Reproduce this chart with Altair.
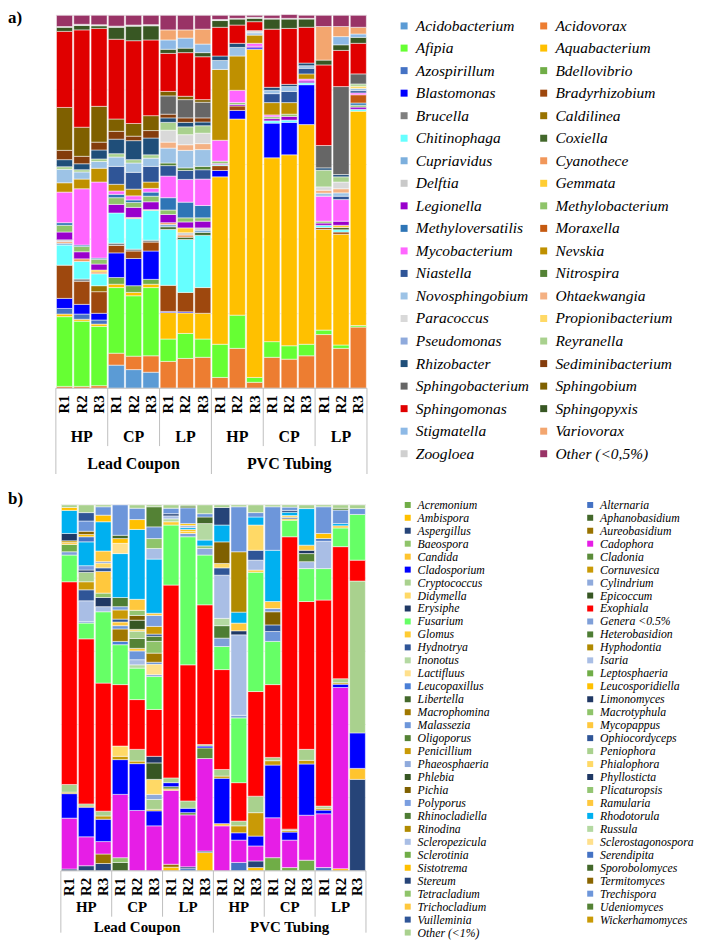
import altair as alt
import pandas as pd

SERIF = "Liberation Serif"

REPLICATES = ["R1", "R2", "R3"]
PIPE_TYPES = ["HP", "CP", "LP"]
MATERIALS = ["Lead Coupon", "PVC Tubing"]
GRID_VALUES = [20, 40, 60, 80, 100]
Y_TICKS = [0, 20, 40, 60, 80, 100]

BAC_GENERA = ["Acidobacterium", "Acidovorax", "Afipia", "Aquabacterium", "Azospirillum", "Bdellovibrio",
              "Blastomonas", "Bradyrhizobium", "Brucella", "Caldilinea", "Chitinophaga", "Coxiella",
              "Cupriavidus", "Cyanothece", "Delftia", "Gemmata", "Legionella", "Methylobacterium",
              "Methyloversatilis", "Moraxella", "Mycobacterium", "Nevskia", "Niastella", "Nitrospira",
              "Novosphingobium", "Ohtaekwangia", "Paracoccus", "Propionibacterium", "Pseudomonas",
              "Reyranella", "Rhizobacter", "Sediminibacterium", "Sphingobacterium", "Sphingobium",
              "Sphingomonas", "Sphingopyxis", "Stigmatella", "Variovorax", "Zoogloea", "Other (<0,5%)"]
BAC_COLORS = ["#5B9BD5", "#ED7D31", "#66FF33", "#FFC000", "#4472C4", "#70AD47", "#0000FF", "#9E480E",
              "#7F7F7F", "#997300", "#66FFFF", "#43682B", "#7CAFDD", "#F1975A", "#C9C9C9", "#FFCD33",
              "#9900CC", "#8FC46A", "#2E75B6", "#C55A11", "#FF66FF", "#BF9000", "#2F5597", "#548235",
              "#9DC3E6", "#F4B183", "#D9D9D9", "#FFD966", "#8FAADC", "#A9D18E", "#1F4E79", "#843C0C",
              "#666666", "#7F6000", "#E00000", "#385723", "#8DB9E6", "#F3A66F", "#D0D0D0", "#993366"]

FUN_GENERA = ["Acremonium", "Alternaria", "Ambispora", "Aphanobasidium", "Aspergillus", "Aureobasidium",
              "Baeospora", "Cadophora", "Candida", "Cladonia", "Cladosporium", "Cornuvesica", "Cryptococcus",
              "Cylindrium", "Didymella", "Epicoccum", "Erysiphe", "Exophiala", "Fusarium", "Genera <0.5%",
              "Glomus", "Heterobasidion", "Hydnotrya", "Hyphodontia", "Inonotus", "Isaria", "Lactifluus",
              "Leptosphaeria", "Leucopaxillus", "Leucosporidiella", "Libertella", "Limonomyces",
              "Macrophomina", "Macrotyphula", "Malassezia", "Mycopappus", "Oligoporus", "Ophiocordyceps",
              "Penicillium", "Peniophora", "Phaeosphaeria", "Phialophora", "Phlebia", "Phyllosticta",
              "Pichia", "Plicaturopsis", "Polyporus", "Ramularia", "Rhinocladiella", "Rhodotorula",
              "Rinodina", "Russula", "Scleropezicula", "Sclerostagonospora", "Sclerotinia", "Serendipita",
              "Sistotrema", "Sporobolomyces", "Stereum", "Termitomyces", "Tetracladium", "Trechispora",
              "Trichocladium", "Udeniomyces", "Vuilleminia", "Wickerhamomyces", "Other (<1%)"]
FUN_COLORS = ["#70AD47", "#4472C4", "#FFC000", "#43682B", "#264478", "#997300", "#8FC46A", "#E61EE6",
              "#FFC42E", "#5B8C3A", "#0000FF", "#C99A06", "#A9D18E", "#8FAADC", "#FFD966", "#375623",
              "#1F3864", "#FF0000", "#66FF66", "#7F9FD8", "#FFCC33", "#4E7D34", "#2F5597", "#B08A00",
              "#B4D9A2", "#A9BEE5", "#FFE08C", "#70AD47", "#4A7FD6", "#FFC000", "#43682B", "#203864",
              "#A07800", "#8FC46A", "#6D96DA", "#FFC83D", "#548235", "#2F5597", "#C99A06", "#A9D18E",
              "#8FAADC", "#FFD966", "#375623", "#1F3864", "#7F6000", "#93C572", "#7A9EE0", "#FFC83D",
              "#4E7D34", "#00B0F0", "#B08A00", "#B4D9A2", "#A9BEE5", "#FFE08C", "#70AD47", "#4472C4",
              "#FFC000", "#43682B", "#264478", "#8A6500", "#8FC46A", "#6D96DA", "#FFC83D", "#548235",
              "#2F5597", "#C99A06", "#A9D18E"]

# ---------------- a) bacteria, relative abundance (%) per sample ----------------
bac_lead_hp_r1 = {"Acidovorax": 0.5, "Afipia": 18.7, "Aquabacterium": 0.7, "Azospirillum": 1.5, "Blastomonas": 2.7,
                  "Bradyrhizobium": 8.9, "Chitinophaga": 5.4, "Cupriavidus": 0.5, "Cyanothece": 0.4, "Delftia": 0.5,
                  "Legionella": 2.1, "Methylobacterium": 1.8, "Methyloversatilis": 0.7, "Mycobacterium": 8.2,
                  "Nevskia": 2.5, "Novosphingobium": 3.6, "Reyranella": 0.7, "Rhizobacter": 1.9,
                  "Sediminibacterium": 2.5, "Sphingobium": 11.5, "Sphingomonas": 20.4, "Sphingopyxis": 1.1,
                  "Zoogloea": 0.2, "Other (<0,5%)": 3.0}
bac_lead_hp_r2 = {"Acidovorax": 0.5, "Afipia": 17.5, "Aquabacterium": 0.5, "Azospirillum": 1.4, "Blastomonas": 2.6,
                  "Bradyrhizobium": 6.2, "Brucella": 0.6, "Chitinophaga": 4.7, "Cyanothece": 0.7, "Legionella": 1.9,
                  "Methylobacterium": 1.4, "Methyloversatilis": 0.4, "Mycobacterium": 15.1, "Nevskia": 2.6,
                  "Novosphingobium": 1.9, "Reyranella": 0.6, "Rhizobacter": 1.6, "Sediminibacterium": 2.0,
                  "Sphingobium": 7.8, "Sphingomonas": 26.1, "Sphingopyxis": 1.2, "Zoogloea": 0.3,
                  "Other (<0,5%)": 2.4}
bac_lead_hp_r3 = {"Acidovorax": 0.7, "Afipia": 15.9, "Aquabacterium": 0.6, "Azospirillum": 1.1, "Blastomonas": 1.8,
                  "Bradyrhizobium": 5.8, "Caldilinea": 1.6, "Chitinophaga": 3.2, "Cyanothece": 0.5, "Gemmata": 0.5,
                  "Legionella": 1.6, "Methylobacterium": 1.3, "Methyloversatilis": 0.3, "Mycobacterium": 20.4,
                  "Nevskia": 3.7, "Novosphingobium": 1.8, "Reyranella": 0.7, "Rhizobacter": 2.4,
                  "Sediminibacterium": 2.1, "Sphingobium": 9.6, "Sphingomonas": 20.9, "Sphingopyxis": 0.7,
                  "Zoogloea": 0.3, "Other (<0,5%)": 2.5}
bac_lead_cp_r1 = {"Acidobacterium": 6.2, "Acidovorax": 3.2, "Afipia": 17.6, "Aquabacterium": 0.9, "Bdellovibrio": 1.8,
                  "Blastomonas": 6.6, "Bradyrhizobium": 2.0, "Brucella": 0.6, "Chitinophaga": 8.1, "Legionella": 2.3,
                  "Methylobacterium": 1.8, "Methyloversatilis": 0.9, "Mycobacterium": 0.9, "Nevskia": 1.8,
                  "Niastella": 4.8, "Novosphingobium": 2.5, "Reyranella": 0.9, "Rhizobacter": 3.9,
                  "Sediminibacterium": 2.1, "Sphingobium": 3.3, "Sphingomonas": 21.4, "Sphingopyxis": 3.2,
                  "Zoogloea": 0.3, "Other (<0,5%)": 2.9}
bac_lead_cp_r2 = {"Acidobacterium": 5.0, "Acidovorax": 3.6, "Afipia": 16.2, "Aquabacterium": 0.9, "Bdellovibrio": 1.8,
                  "Blastomonas": 7.3, "Bradyrhizobium": 2.0, "Brucella": 0.5, "Chitinophaga": 8.2, "Cyanothece": 0.3,
                  "Legionella": 2.7, "Methylobacterium": 1.3, "Methyloversatilis": 0.7, "Mycobacterium": 1.1,
                  "Nevskia": 1.8, "Niastella": 4.5, "Novosphingobium": 2.5, "Reyranella": 0.9, "Rhizobacter": 5.1,
                  "Sediminibacterium": 1.2, "Sphingobium": 3.4, "Sphingomonas": 22.2, "Sphingopyxis": 3.9,
                  "Zoogloea": 0.3, "Other (<0,5%)": 2.6}
bac_lead_cp_r3 = {"Acidobacterium": 4.3, "Acidovorax": 4.4, "Afipia": 18.3, "Aquabacterium": 0.9, "Bdellovibrio": 1.3,
                  "Blastomonas": 7.6, "Bradyrhizobium": 2.4, "Brucella": 0.5, "Chitinophaga": 8.0, "Cyanothece": 0.2,
                  "Legionella": 2.1, "Methylobacterium": 1.5, "Methyloversatilis": 1.1, "Mycobacterium": 1.0,
                  "Nevskia": 1.7, "Niastella": 4.2, "Novosphingobium": 2.2, "Reyranella": 0.9, "Rhizobacter": 4.5,
                  "Sediminibacterium": 2.0, "Sphingobium": 4.0, "Sphingomonas": 20.3, "Sphingopyxis": 3.8,
                  "Zoogloea": 0.3, "Other (<0,5%)": 2.5}
bac_lead_lp_r1 = {"Acidovorax": 7.2, "Afipia": 6.0, "Aquabacterium": 7.1, "Blastomonas": 0.3, "Bradyrhizobium": 7.0,
                  "Chitinophaga": 15.0, "Coxiella": 0.7, "Cupriavidus": 0.6, "Cyanothece": 0.5, "Legionella": 2.2,
                  "Methylobacterium": 1.2, "Methyloversatilis": 3.3, "Mycobacterium": 5.8, "Niastella": 2.8,
                  "Nitrospira": 0.7, "Novosphingobium": 4.0, "Ohtaekwangia": 1.6, "Paracoccus": 3.2,
                  "Reyranella": 2.1, "Rhizobacter": 1.2, "Sediminibacterium": 1.0, "Sphingobacterium": 4.9,
                  "Sphingobium": 1.2, "Sphingomonas": 10.2, "Sphingopyxis": 1.1, "Stigmatella": 2.5,
                  "Variovorax": 2.7, "Other (<0,5%)": 3.9}
bac_lead_lp_r2 = {"Acidovorax": 8.0, "Afipia": 6.7, "Aquabacterium": 5.5, "Blastomonas": 0.3, "Bradyrhizobium": 5.2,
                  "Chitinophaga": 14.2, "Coxiella": 0.6, "Cyanothece": 0.6, "Delftia": 0.6, "Gemmata": 1.3,
                  "Legionella": 1.6, "Methylobacterium": 1.1, "Methyloversatilis": 4.2, "Mycobacterium": 6.1,
                  "Niastella": 2.4, "Nitrospira": 0.7, "Novosphingobium": 4.7, "Ohtaekwangia": 1.5,
                  "Paracoccus": 2.7, "Reyranella": 2.1, "Rhizobacter": 1.2, "Sediminibacterium": 1.2,
                  "Sphingobacterium": 4.9, "Sphingobium": 0.9, "Sphingomonas": 11.7, "Sphingopyxis": 1.2,
                  "Stigmatella": 2.7, "Variovorax": 2.2, "Other (<0,5%)": 3.9}
bac_lead_lp_r3 = {"Acidovorax": 8.3, "Afipia": 4.9, "Aquabacterium": 6.9, "Bradyrhizobium": 6.9, "Chitinophaga": 14.0,
                  "Coxiella": 0.8, "Cupriavidus": 0.6, "Delftia": 0.6, "Legionella": 1.8, "Methylobacterium": 0.9,
                  "Methyloversatilis": 3.3, "Mycobacterium": 7.1, "Niastella": 2.5, "Nitrospira": 0.9,
                  "Novosphingobium": 4.5, "Ohtaekwangia": 1.6, "Paracoccus": 2.8, "Reyranella": 2.0,
                  "Rhizobacter": 1.0, "Sediminibacterium": 1.1, "Sphingobacterium": 4.2, "Sphingobium": 0.7,
                  "Sphingomonas": 11.5, "Sphingopyxis": 1.1, "Stigmatella": 2.3, "Variovorax": 4.0,
                  "Other (<0,5%)": 3.7}
bac_pvc_hp_r1 = {"Acidovorax": 2.9, "Afipia": 8.9, "Aquabacterium": 44.9, "Blastomonas": 1.7, "Bradyrhizobium": 1.3,
                 "Chitinophaga": 0.3, "Legionella": 0.3, "Methylobacterium": 0.6, "Mycobacterium": 5.6,
                 "Nevskia": 19.0, "Novosphingobium": 2.4, "Rhizobacter": 1.2, "Sphingomonas": 7.7,
                 "Sphingopyxis": 1.8, "Zoogloea": 0.3, "Other (<0,5%)": 1.1}
bac_pvc_hp_r2 = {"Acidovorax": 10.7, "Afipia": 8.9, "Aquabacterium": 52.6, "Blastomonas": 2.3, "Bradyrhizobium": 1.2,
                 "Legionella": 0.4, "Methylobacterium": 0.5, "Mycobacterium": 3.3, "Nevskia": 9.2,
                 "Novosphingobium": 2.3, "Rhizobacter": 1.1, "Sphingomonas": 4.9, "Sphingopyxis": 1.6,
                 "Zoogloea": 0.2, "Other (<0,5%)": 0.8}
bac_pvc_hp_r3 = {"Acidovorax": 1.6, "Afipia": 1.3, "Aquabacterium": 88.0, "Blastomonas": 0.4, "Legionella": 0.4,
                 "Mycobacterium": 0.8, "Nevskia": 2.2, "Novosphingobium": 0.6, "Paracoccus": 0.6,
                 "Sphingomonas": 2.4, "Sphingopyxis": 0.9, "Zoogloea": 0.3, "Other (<0,5%)": 0.5}
bac_pvc_cp_r1 = {"Acidovorax": 8.3, "Afipia": 4.2, "Aquabacterium": 49.3, "Blastomonas": 9.3, "Chitinophaga": 0.6,
                 "Legionella": 0.6, "Methylobacterium": 0.5, "Mycobacterium": 0.5, "Nevskia": 3.3, "Niastella": 2.4,
                 "Novosphingobium": 0.9, "Rhizobacter": 0.8, "Sphingomonas": 15.6, "Sphingopyxis": 2.7,
                 "Zoogloea": 0.2, "Other (<0,5%)": 0.8}
bac_pvc_cp_r2 = {"Acidovorax": 7.8, "Afipia": 3.6, "Aquabacterium": 51.2, "Blastomonas": 8.7, "Chitinophaga": 0.6,
                 "Legionella": 1.0, "Methylobacterium": 0.6, "Nevskia": 3.1, "Niastella": 3.0,
                 "Novosphingobium": 1.3, "Rhizobacter": 0.6, "Sphingomonas": 15.0, "Sphingopyxis": 2.5,
                 "Zoogloea": 0.2, "Other (<0,5%)": 1.0}
bac_pvc_cp_r3 = {"Acidovorax": 8.7, "Afipia": 3.1, "Aquabacterium": 58.9, "Blastomonas": 10.7, "Chitinophaga": 0.5,
                 "Legionella": 0.5, "Mycobacterium": 0.5, "Nevskia": 1.4, "Niastella": 1.5, "Novosphingobium": 0.7,
                 "Rhizobacter": 0.7, "Sphingomonas": 9.6, "Sphingopyxis": 2.2, "Zoogloea": 0.2,
                 "Other (<0,5%)": 0.8}
bac_pvc_lp_r1 = {"Acidovorax": 14.4, "Afipia": 1.2, "Aquabacterium": 27.0, "Bradyrhizobium": 0.5, "Chitinophaga": 0.6,
                 "Legionella": 0.6, "Methylobacterium": 0.5, "Mycobacterium": 6.7, "Novosphingobium": 0.8,
                 "Ohtaekwangia": 0.8, "Paracoccus": 0.9, "Reyranella": 4.5, "Rhizobacter": 0.6,
                 "Sphingobacterium": 6.0, "Sphingomonas": 21.6, "Sphingopyxis": 1.3, "Variovorax": 9.0,
                 "Other (<0,5%)": 3.0}
bac_pvc_lp_r2 = {"Acidovorax": 10.7, "Afipia": 0.9, "Aquabacterium": 29.7, "Bradyrhizobium": 0.6, "Chitinophaga": 0.6,
                 "Coxiella": 0.6, "Gemmata": 0.6, "Legionella": 1.1, "Mycobacterium": 5.8, "Niastella": 0.9,
                 "Novosphingobium": 0.9, "Ohtaekwangia": 1.1, "Paracoccus": 1.8, "Reyranella": 1.4,
                 "Rhizobacter": 0.6, "Sphingobacterium": 23.6, "Sphingomonas": 9.7, "Sphingopyxis": 1.5,
                 "Stigmatella": 2.2, "Variovorax": 2.7, "Other (<0,5%)": 3.0}
bac_pvc_lp_r3 = {"Acidovorax": 16.4, "Afipia": 0.4, "Aquabacterium": 57.5, "Chitinophaga": 0.5, "Legionella": 0.6,
                 "Methylobacterium": 0.5, "Methyloversatilis": 0.6, "Moraxella": 2.2, "Mycobacterium": 0.5,
                 "Niastella": 0.6, "Novosphingobium": 0.6, "Propionibacterium": 0.6, "Reyranella": 0.6,
                 "Sphingobacterium": 2.7, "Sphingomonas": 8.2, "Sphingopyxis": 1.6, "Stigmatella": 0.9,
                 "Variovorax": 1.8, "Other (<0,5%)": 3.2}

# ---------------- b) fungi, relative abundance (%) per sample ----------------
fun_lead_hp_r1 = {"Aspergillus": 0.5, "Cadophora": 13.9, "Cladosporium": 6.7, "Cornuvesica": 0.4, "Cryptococcus": 2.1,
                  "Exophiala": 55.4, "Fusarium": 7.3, "Genera <0.5%": 0.9, "Leptosphaeria": 2.0, "Mycopappus": 0.5,
                  "Penicillium": 0.5, "Phyllosticta": 2.0, "Rhodotorula": 6.3, "Sistotrema": 0.8, "Other (<1%)": 0.7}
fun_lead_hp_r2 = {"Aspergillus": 1.4, "Cadophora": 7.9, "Cladosporium": 8.1, "Cornuvesica": 0.3, "Cryptococcus": 0.6,
                  "Exophiala": 45.1, "Fusarium": 4.3, "Genera <0.5%": 0.4, "Isaria": 5.7, "Ophiocordyceps": 3.0,
                  "Penicillium": 2.2, "Peniophora": 2.6, "Phyllosticta": 0.6, "Polyporus": 1.2, "Rhodotorula": 6.5,
                  "Serendipita": 1.4, "Sistotrema": 0.6, "Termitomyces": 0.9, "Trechispora": 2.8,
                  "Vuilleminia": 2.3, "Other (<1%)": 2.1}
fun_lead_hp_r3 = {"Aspergillus": 2.0, "Aureobasidium": 2.6, "Cadophora": 3.4, "Cladosporium": 6.1, "Cornuvesica": 0.9,
                  "Cryptococcus": 1.3, "Exophiala": 35.0, "Fusarium": 19.5, "Isaria": 1.4, "Limonomyces": 2.5,
                  "Macrotyphula": 1.2, "Mycopappus": 5.9, "Ophiocordyceps": 1.0, "Phialophora": 1.3,
                  "Polyporus": 0.4, "Ramularia": 2.9, "Rhodotorula": 8.0, "Sistotrema": 1.8, "Trechispora": 2.3,
                  "Other (<1%)": 0.5}
fun_lead_cp_r1 = {"Aphanobasidium": 2.3, "Baeospora": 1.3, "Cadophora": 17.3, "Cladosporium": 9.5, "Cornuvesica": 0.9,
                  "Didymella": 2.8, "Exophiala": 16.8, "Fusarium": 10.9, "Leucopaxillus": 0.9, "Macrophomina": 3.4,
                  "Malassezia": 0.9, "Mycopappus": 1.0, "Ophiocordyceps": 0.8, "Penicillium": 2.5, "Polyporus": 0.9,
                  "Rhinocladiella": 2.5, "Rhodotorula": 12.0, "Sclerostagonospora": 2.8, "Sistotrema": 1.3,
                  "Sporobolomyces": 0.9, "Trechispora": 8.3}
fun_lead_cp_r2 = {"Cadophora": 16.5, "Cladosporium": 12.8, "Cornuvesica": 0.7, "Cryptococcus": 3.2, "Exophiala": 13.6,
                  "Fusarium": 8.6, "Inonotus": 0.9, "Isaria": 1.4, "Malassezia": 2.4, "Mycopappus": 0.7,
                  "Oligoporus": 2.7, "Peniophora": 2.0, "Phialophora": 0.5, "Phlebia": 2.5, "Pichia": 1.3,
                  "Plicaturopsis": 1.4, "Ramularia": 3.0, "Rhodotorula": 19.1, "Sistotrema": 2.7, "Trechispora": 3.1,
                  "Other (<1%)": 0.9}
fun_lead_cp_r3 = {"Cadophora": 12.3, "Cladosporium": 4.1, "Cornuvesica": 0.4, "Cryptococcus": 2.7, "Cylindrium": 1.4,
                  "Didymella": 4.1, "Epicoccum": 4.5, "Erysiphe": 1.8, "Exophiala": 12.8, "Fusarium": 9.0,
                  "Genera <0.5%": 0.5, "Lactifluus": 2.9, "Leucopaxillus": 0.5, "Macrophomina": 2.5,
                  "Macrotyphula": 3.2, "Oligoporus": 1.4, "Ophiocordyceps": 0.6, "Penicillium": 2.1, "Polyporus": 3.0,
                  "Ramularia": 0.6, "Rhodotorula": 14.8, "Scleropezicula": 2.9, "Tetracladium": 2.7,
                  "Trechispora": 3.2, "Udeniomyces": 5.5, "Other (<1%)": 0.5}
fun_lead_lp_r1 = {"Ambispora": 1.0, "Aureobasidium": 0.8, "Cadophora": 20.2, "Candida": 0.4, "Cladonia": 0.6,
                  "Cladosporium": 1.1, "Cryptococcus": 1.3, "Exophiala": 52.7, "Fusarium": 16.4, "Glomus": 0.9,
                  "Russula": 0.8, "Scleropezicula": 0.8, "Stereum": 0.6, "Trechispora": 1.5, "Other (<1%)": 0.9}
fun_lead_lp_r2 = {"Alternaria": 0.6, "Aspergillus": 0.5, "Cadophora": 14.2, "Cladonia": 0.6, "Cladosporium": 1.2,
                  "Cryptococcus": 2.0, "Exophiala": 37.2, "Fusarium": 35.0, "Genera <0.5%": 0.9, "Glomus": 0.6,
                  "Leucosporidiella": 0.5, "Rhodotorula": 0.5, "Scleropezicula": 0.6, "Sistotrema": 0.5,
                  "Trechispora": 4.3, "Udeniomyces": 0.5, "Other (<1%)": 0.3}
fun_lead_lp_r3 = {"Ambispora": 5.0, "Aspergillus": 0.4, "Cadophora": 25.3, "Cladonia": 2.9, "Cladosporium": 0.5,
                  "Cryptococcus": 0.4, "Exophiala": 38.2, "Fusarium": 13.6, "Phaeosphaeria": 1.8,
                  "Plicaturopsis": 0.7, "Rhodotorula": 1.6, "Russula": 4.5, "Sporobolomyces": 1.8,
                  "Trechispora": 0.9, "Other (<1%)": 2.4}
fun_pvc_hp_r1 = {"Cadophora": 12.3, "Candida": 0.6, "Cladosporium": 12.4, "Cornuvesica": 0.6, "Cryptococcus": 1.8,
                 "Exophiala": 27.3, "Fusarium": 6.3, "Genera <0.5%": 2.3, "Heterobasidion": 3.4, "Inonotus": 2.0,
                 "Isaria": 11.8, "Ophiocordyceps": 2.0, "Phialophora": 1.2, "Pichia": 5.9, "Rhodotorula": 4.6,
                 "Stereum": 4.8, "Other (<1%)": 0.7}
fun_pvc_hp_r2 = {"Alternaria": 2.3, "Cadophora": 6.1, "Cladosporium": 2.0, "Cornuvesica": 1.9, "Cryptococcus": 1.3,
                 "Exophiala": 10.5, "Fusarium": 17.7, "Genera <0.5%": 0.7, "Isaria": 22.0, "Phyllosticta": 1.1,
                 "Ramularia": 2.1, "Rhodotorula": 3.0, "Rinodina": 16.5, "Trechispora": 12.3, "Other (<1%)": 0.5}
fun_pvc_hp_r3 = {"Ambispora": 0.9, "Aspergillus": 1.8, "Cadophora": 4.1, "Cladosporium": 2.7, "Cornuvesica": 6.4,
                 "Cryptococcus": 4.5, "Exophiala": 28.6, "Fusarium": 32.6, "Glomus": 0.6, "Isaria": 2.7,
                 "Ophiocordyceps": 2.7, "Phialophora": 6.9, "Rhodotorula": 2.2, "Trechispora": 1.2,
                 "Other (<1%)": 2.1}
fun_pvc_cp_r1 = {"Acremonium": 3.6, "Cadophora": 10.9, "Cladosporium": 14.4, "Cornuvesica": 1.2, "Cryptococcus": 0.9,
                 "Exophiala": 19.9, "Fusarium": 11.8, "Malassezia": 2.7, "Ophiocordyceps": 1.8, "Pichia": 3.6,
                 "Polyporus": 0.9, "Ramularia": 1.9, "Rhodotorula": 14.0, "Trechispora": 11.9, "Other (<1%)": 0.5}
fun_pvc_cp_r2 = {"Acremonium": 0.9, "Cadophora": 7.5, "Cladosporium": 2.2, "Cornuvesica": 0.4, "Cryptococcus": 0.4,
                 "Exophiala": 79.9, "Fusarium": 4.5, "Glomus": 0.4, "Ophiocordyceps": 0.4, "Phialophora": 0.5,
                 "Rhodotorula": 0.9, "Stereum": 0.5, "Trechispora": 0.9, "Other (<1%)": 0.6}
fun_pvc_cp_r3 = {"Acremonium": 2.9, "Cadophora": 12.3, "Cladosporium": 14.0, "Cornuvesica": 1.0, "Cryptococcus": 3.0,
                 "Exophiala": 40.4, "Fusarium": 9.0, "Isaria": 1.9, "Oligoporus": 2.2, "Phyllosticta": 0.9,
                 "Ramularia": 1.4, "Rhodotorula": 10.0, "Other (<1%)": 1.0}
fun_pvc_lp_r1 = {"Alternaria": 0.9, "Cadophora": 14.7, "Cladosporium": 1.0, "Cornuvesica": 0.5, "Cryptococcus": 0.6,
                 "Exophiala": 56.3, "Fusarium": 8.6, "Scleropezicula": 7.5, "Serendipita": 0.7, "Sistotrema": 1.4,
                 "Trechispora": 7.3, "Other (<1%)": 0.5}
fun_pvc_lp_r2 = {"Ambispora": 0.6, "Cadophora": 49.5, "Cladosporium": 0.9, "Cornuvesica": 0.4, "Cryptococcus": 1.1,
                 "Exophiala": 36.1, "Fusarium": 5.1, "Ramularia": 0.6, "Rhodotorula": 0.6, "Trechispora": 3.7,
                 "Udeniomyces": 0.5, "Other (<1%)": 0.9}
fun_pvc_lp_r3 = {"Aspergillus": 25.0, "Candida": 3.0, "Cladosporium": 9.7, "Cryptococcus": 41.5, "Exophiala": 5.7,
                 "Fusarium": 12.5, "Trechispora": 1.6, "Other (<1%)": 1.0}

BAC_BARS = [bac_lead_hp_r1, bac_lead_hp_r2, bac_lead_hp_r3, bac_lead_cp_r1, bac_lead_cp_r2, bac_lead_cp_r3,
            bac_lead_lp_r1, bac_lead_lp_r2, bac_lead_lp_r3, bac_pvc_hp_r1, bac_pvc_hp_r2, bac_pvc_hp_r3,
            bac_pvc_cp_r1, bac_pvc_cp_r2, bac_pvc_cp_r3, bac_pvc_lp_r1, bac_pvc_lp_r2, bac_pvc_lp_r3]
FUN_BARS = [fun_lead_hp_r1, fun_lead_hp_r2, fun_lead_hp_r3, fun_lead_cp_r1, fun_lead_cp_r2, fun_lead_cp_r3,
            fun_lead_lp_r1, fun_lead_lp_r2, fun_lead_lp_r3, fun_pvc_hp_r1, fun_pvc_hp_r2, fun_pvc_hp_r3,
            fun_pvc_cp_r1, fun_pvc_cp_r2, fun_pvc_cp_r3, fun_pvc_lp_r1, fun_pvc_lp_r2, fun_pvc_lp_r3]


def make_panel(bars, genera, colors, tag, cfg):
    n = len(bars)
    rows = []
    for i, bar in enumerate(bars):
        for g, v in bar.items():
            rows.append({"idx": i, "genus": g, "value": v, "order": genera.index(g)})
    df = pd.DataFrame(rows)

    # Vega fills legend columns top-to-bottom; list the left column first so the
    # legend reads alphabetically across rows as in the original figure.
    leg_domain = genera[0::2] + genera[1::2]
    leg_range = colors[0::2] + colors[1::2]

    W, H = cfg["width"], cfg["height"]
    xs = alt.Scale(domain=[cfg["xmin"], n], nice=False, zero=False)
    ys = alt.Scale(domain=[0, 100], nice=False)

    yaxis = alt.Axis(values=Y_TICKS, title="Relative abundance (%)", grid=False, domain=False,
                     ticks=False, tickSize=0, labelFont=SERIF, labelFontSize=14, labelColor="black",
                     labelPadding=cfg["label_pad"], titleFont=SERIF, titleFontSize=16,
                     titleFontWeight="bold", titleColor="black", titlePadding=cfg["title_pad"])

    grid_df = pd.DataFrame({"y": GRID_VALUES, "x0": [0] * len(GRID_VALUES), "x1": [n] * len(GRID_VALUES)})
    grid = alt.Chart(grid_df).mark_rule(color="#D9D9D9", strokeWidth=0.8).encode(
        x=alt.X("x0:Q", scale=xs, axis=None), x2="x1:Q",
        y=alt.Y("y:Q", scale=ys, axis=yaxis))

    legend = alt.Legend(title=None, orient="none", legendX=cfg["legend_x"], legendY=cfg["legend_y"],
                        columns=2, symbolType="square", symbolSize=cfg["sym_size"], symbolStrokeWidth=0,
                        labelFont=SERIF, labelFontStyle="italic", labelFontSize=cfg["legend_font"],
                        labelColor="black", rowPadding=cfg["row_pad"], columnPadding=cfg["col_pad"],
                        labelLimit=400, symbolLimit=200, labelOffset=4, padding=0)

    stacked = alt.Chart(df).transform_stack(
        stack="value", groupby=["idx"], sort=[alt.SortField(field="order", order="ascending")],
        as_=["v0", "v1"]
    ).transform_calculate(xa="datum.idx + 0.035", xb="datum.idx + 0.965").mark_bar(
        stroke="white", strokeWidth=0.5
    ).encode(
        x=alt.X("xa:Q", scale=xs, axis=None), x2="xb:Q",
        y=alt.Y("v0:Q", scale=ys, axis=None), y2="v1:Q",
        color=alt.Color("genus:N", scale=alt.Scale(domain=leg_domain, range=leg_range), legend=legend))

    base_df = pd.DataFrame({"y": [0], "x0": [0], "x1": [n]})
    baseline = alt.Chart(base_df).mark_rule(color="#BFBFBF", strokeWidth=1).encode(
        x=alt.X("x0:Q", scale=xs, axis=None), x2="x1:Q", y=alt.Y("y:Q", scale=ys, axis=None))

    inner_df = pd.DataFrame({"pos": [k * 3 for k in range(1, n // 3) if k % 3]})
    outer_df = pd.DataFrame({"pos": [k * 9 for k in range(n // 9 + 1)]})
    inner = alt.Chart(inner_df).mark_rule(color="#BFBFBF").encode(
        x=alt.X("pos:Q", scale=xs, axis=None), y=alt.value(H), y2=alt.value(H + cfg["inner_len"]))
    outer = alt.Chart(outer_df).mark_rule(color="#BFBFBF").encode(
        x=alt.X("pos:Q", scale=xs, axis=None), y=alt.value(H), y2=alt.value(H + cfg["outer_len"]))

    rep_df = pd.DataFrame({"idx": list(range(n)), "label": REPLICATES * (n // 3)})
    reps = alt.Chart(rep_df).transform_calculate(xc="datum.idx + 0.5").mark_text(
        angle=270, align="right", baseline="middle", font=SERIF, fontSize=15, fontWeight="bold",
        color="black").encode(x=alt.X("xc:Q", scale=xs, axis=None), y=alt.value(H + 7), text="label:N")

    grp_df = pd.DataFrame({"g": list(range(n // 3)), "label": [p for m in MATERIALS for p in PIPE_TYPES]})
    grps = alt.Chart(grp_df).transform_calculate(xc="datum.g * 3 + 1.5").mark_text(
        align="center", baseline="middle", font=SERIF, fontSize=cfg["grp_font"], fontWeight="bold",
        color="black").encode(x=alt.X("xc:Q", scale=xs, axis=None), y=alt.value(H + cfg["grp_y"]),
                              text="label:N")

    mat_df = pd.DataFrame({"m": list(range(len(MATERIALS))), "label": MATERIALS})
    mats = alt.Chart(mat_df).transform_calculate(xc="datum.m * 9 + 4.5").mark_text(
        align="center", baseline="middle", font=SERIF, fontSize=cfg["grp_font"], fontWeight="bold",
        color="black").encode(x=alt.X("xc:Q", scale=xs, axis=None), y=alt.value(H + cfg["mat_y"]),
                              text="label:N")

    tag_df = pd.DataFrame({"t": [tag]})
    tag_layer = alt.Chart(tag_df).mark_text(
        align="left", baseline="middle", font=SERIF, fontSize=17, fontWeight="bold", color="black"
    ).encode(x=alt.value(-48), y=alt.value(cfg["tag_y"]), text="t:N")

    return alt.layer(grid, stacked, baseline, inner, outer, reps, grps, mats, tag_layer).properties(
        width=W, height=H)


panel_a = make_panel(BAC_BARS, BAC_GENERA, BAC_COLORS, "a)", dict(
    width=312, height=374, xmin=0, label_pad=11, title_pad=1, legend_x=341.5, legend_y=2.5,
    legend_font=15.5, row_pad=5.6, col_pad=6, sym_size=49, inner_len=58, outer_len=86,
    grp_y=49, mat_y=76, grp_font=16, tag_y=3))

panel_b = make_panel(FUN_BARS, FUN_GENERA, FUN_COLORS, "b)", dict(
    width=311, height=367, xmin=-0.294, label_pad=6, title_pad=5, legend_x=347, legend_y=-6,
    legend_font=11.8, row_pad=0, col_pad=94, sym_size=36, inner_len=46, outer_len=62,
    grp_y=36, mat_y=56, grp_font=15, tag_y=-6))

chart = alt.vconcat(panel_a, panel_b, spacing=117, bounds="flush").resolve_scale(
    color="independent", x="independent", y="independent"
).properties(
    padding={"left": 0, "top": 0, "right": 0, "bottom": 0}
).configure_view(stroke=None)

chart.save("out.html", embed_options={"renderer": "svg", "actions": False})
